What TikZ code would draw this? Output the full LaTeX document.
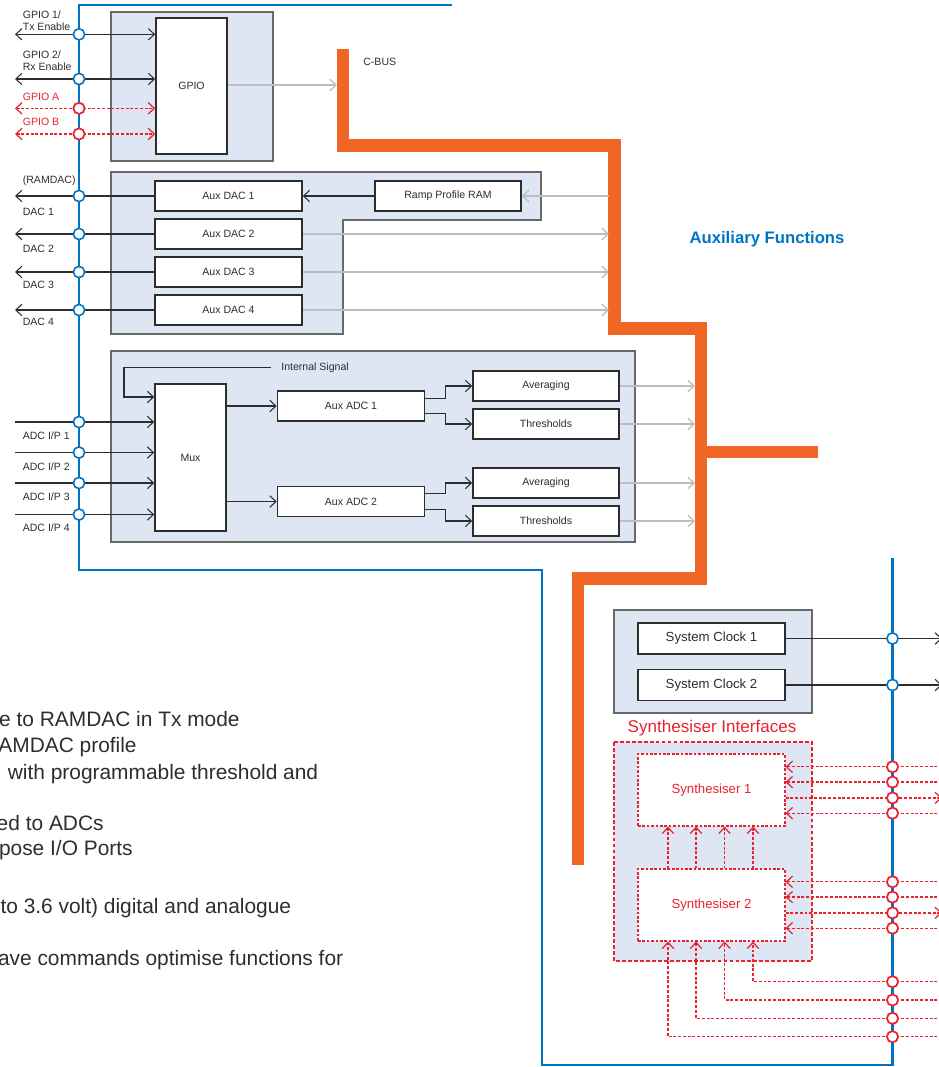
\documentclass[tikz,border=0pt]{standalone}
\usepackage{fontspec}
\setmainfont{Liberation Sans}
\usetikzlibrary{arrows.meta}

\definecolor{busblue}{RGB}{0,116,196}
\definecolor{cbusorange}{RGB}{242,102,37}
\definecolor{panelfill}{RGB}{223,230,243}
\definecolor{panelline}{RGB}{105,105,105}
\definecolor{sigred}{RGB}{234,34,48}
\definecolor{inkgray}{RGB}{45,45,45}
\definecolor{busgray}{RGB}{190,190,190}

\tikzset{
  >={Straight Barb[length=3.5pt,width=6.5pt]},
  panel/.style={draw=panelline,fill=panelfill,line width=.6pt},
  blk/.style={draw=inkgray,fill=white,line width=.9pt,inner sep=0pt,
    text=inkgray,font=\fontsize{6}{7}\selectfont},
  dacblk/.style={blk,minimum width=2.94cm,minimum height=.6cm},
  bigblk/.style={blk,font=\fontsize{7.5}{9}\selectfont,minimum width=2.94cm},
  synblk/.style={bigblk,draw=sigred,text=sigred,line width=.6pt,
    dash pattern=on 1.5pt off 1pt,minimum height=1.44cm},
  lbl/.style={inner sep=0pt,text=inkgray,align=left,anchor=west,
    font=\fontsize{6}{6.6}\selectfont},
  note/.style={inner sep=0pt,anchor=base east,text=inkgray,
    font=\fontsize{11.9}{14}\selectfont},
  sig/.style={draw=inkgray,line width=.6pt},
  link/.style={draw=busgray,line width=.75pt},
  rsig/.style={draw=sigred,line width=.7pt,dash pattern=on 1.7pt off 1pt},
  pin/.style={circle,draw=busblue,fill=white,line width=.9pt,inner sep=0pt,
    minimum size=6.4pt},
  rpin/.style={pin,draw=sigred,line width=1pt},
}

\begin{document}
\begin{tikzpicture}[x=.02cm,y=-.02cm]
\useasboundingbox (0,0) rectangle (938,1067);

\draw[cbusorange,line width=7.1pt] (343,49) -- (343,145.5) -- (614.5,145.5)
    -- (614.5,328.5) -- (701,328.5) -- (701,578.5) -- (578,578.5) -- (578,865);
\draw[cbusorange,line width=7.1pt] (701,452) -- (818,452);
\node[lbl] (cbus) at (363,62) {C-BUS};

\draw[busblue,line width=1.2pt] (452,5) -- (79,5) -- (79,570) -- (542,570)
    -- (542,1065) -- (892.5,1065) -- (892.5,558);

\coordinate (lbus) at (79,0);
\coordinate (rbus) at (892.5,0);
\coordinate (ledge) at (15,0);
\coordinate (redge) at (942,0);
\coordinate (cbA) at (609,0);
\coordinate (cbB) at (695,0);

\draw[panel] (111,12) rectangle (273,161);
\draw[panel] (111,172) -- (541,172) -- (541,220) -- (343,220) -- (343,334)
    -- (111,334) -- cycle;
\draw[panel] (111,351) rectangle (635,542);
\draw[panel] (614,610) rectangle (812,713);
\draw[panel,draw=sigred,line width=1pt,dash pattern=on 2.2pt off 1.2pt]
    (614,742) rectangle (812,961);

\node[blk,minimum width=1.42cm,minimum height=2.72cm] (gpio) at (191.5,86) {GPIO};
\coordinate (g1) at (79,34.3);
\coordinate (g2) at (79,79);
\coordinate (gA) at (79,108.3);
\coordinate (gB) at (79,134);
\draw[sig,<->] (g1 -| ledge) -- (gpio.west |- g1);
\draw[sig,<->] (g2 -| ledge) -- (gpio.west |- g2);
\draw[rsig,<->] (gA -| ledge) -- (gpio.west |- gA);
\draw[rsig,<->] (gB -| ledge) -- (gpio.west |- gB);
\coordinate (cb0) at (337,85);
\draw[link,->] (gpio.east |- cb0) -- (cb0);
\node[lbl] (lg1) at (22.5,20.5) {GPIO 1/\\Tx Enable};
\node[lbl] (lg2) at (22.5,60.5) {GPIO 2/\\Rx Enable};
\node[lbl,text=sigred] (lgA) at (22.5,97) {GPIO A};
\node[lbl,text=sigred] (lgB) at (22.5,122) {GPIO B};

\node[dacblk] (dac1) at (228.5,196) {Aux DAC 1};
\node[dacblk] (dac2) at (228.5,234) {Aux DAC 2};
\node[dacblk] (dac3) at (228.5,272) {Aux DAC 3};
\node[dacblk] (dac4) at (228.5,310) {Aux DAC 4};
\node[dacblk,minimum width=2.92cm] (ramp) at (448,196) {Ramp Profile RAM};
\foreach \i in {1,...,4}
  \draw[sig,->] (dac\i.west) -- (dac\i.west -| ledge);
\foreach \i in {2,3,4}
  \draw[link,->] (dac\i.east) -- (dac\i.east -| cbA);
\draw[sig,->] (ramp.west) -- (dac1.east);
\draw[link,->] (ramp.east -| cbA) -- (ramp.east);
\node[lbl] (lram) at (22.5,180.7) {(RAMDAC)};
\node[lbl] (ld1) at (22.5,211.7) {DAC 1};
\node[lbl] (ld2) at (22.5,249.3) {DAC 2};
\node[lbl] (ld3) at (22.5,285) {DAC 3};
\node[lbl] (ld4) at (22.5,321.7) {DAC 4};

\node[blk,minimum width=1.42cm,minimum height=2.94cm] (mux) at (190.5,457.5) {Mux};
\node[dacblk] (adc1) at (351,406) {Aux ADC 1};
\node[dacblk] (adc2) at (351,501.5) {Aux ADC 2};
\node[dacblk,minimum width=2.92cm] (avg1) at (546,386) {Averaging};
\node[dacblk,minimum width=2.92cm] (thr1) at (546,424) {Thresholds};
\node[dacblk,minimum width=2.92cm] (avg2) at (546,483) {Averaging};
\node[dacblk,minimum width=2.92cm] (thr2) at (546,521) {Thresholds};
\coordinate (a1) at (79,422);
\coordinate (a2) at (79,452.5);
\coordinate (a3) at (79,483);
\coordinate (a4) at (79,514.5);
\foreach \i in {1,...,4}
  \draw[sig,->] (a\i -| ledge) -- (mux.west |- a\i);
\node[lbl] (la1) at (22.5,436) {ADC I/P 1};
\node[lbl] (la2) at (22.5,466.5) {ADC I/P 2};
\node[lbl] (la3) at (22.5,497) {ADC I/P 3};
\node[lbl] (la4) at (22.5,528) {ADC I/P 4};
\node[lbl] (isig) at (281,367.5) {Internal Signal};
\coordinate (isigk) at (124,397);
\draw[sig,->] ([xshift=-5.7pt]isig.west) -| (isigk) -- (mux.west |- isigk);
\draw[sig,->] (mux.east |- adc1) -- (adc1.west);
\draw[sig,->] (mux.east |- adc2) -- (adc2.west);
\foreach \a/\v/\t in {adc1/avg1/thr1,adc2/avg2/thr2} {
  \draw[sig,->] ([yshift=4.3pt]\a.east) -- ++(20,0) |- (\v.west);
  \draw[sig,->] ([yshift=-4.3pt]\a.east) -- ++(20,0) |- (\t.west);
}
\foreach \b in {avg1,thr1,avg2,thr2}
  \draw[link,->] (\b.east) -- (\b.east -| cbB);

\node[bigblk,minimum height=.62cm] (clk1) at (711.5,638.5) {System Clock 1};
\node[bigblk,minimum height=.62cm] (clk2) at (711.5,685) {System Clock 2};
\draw[sig,->] (clk1.east) -- (clk1.east -| redge);
\draw[sig,->] (clk2.east) -- (clk2.east -| redge);

\node[text=sigred,font=\fontsize{9.7}{11}\selectfont] (synlbl) at (712,728)
    {Synthesiser Interfaces};
\node[synblk] (syn1) at (711.5,790) {Synthesiser 1};
\node[synblk] (syn2) at (711.5,905) {Synthesiser 2};
\foreach \s in {syn1,syn2}
  \foreach \o [count=\k] in {13.2pt,4.5pt,-4.5pt,-13.2pt}
    \coordinate (\s p\k) at ([yshift=\o]\s.east);
\foreach \s in {syn1,syn2} {
  \foreach \k in {1,2,4}
    \draw[rsig,->] (\s p\k -| redge) -- (\s p\k);
  \draw[rsig,->] (\s p3) -- (\s p3 -| redge);
}
\coordinate (c1) at (668,0);
\coordinate (c2) at (696,0);
\coordinate (c3) at (724.5,0);
\coordinate (c4) at (753,0);
\foreach \k in {1,...,4}
  \draw[rsig,->] (syn2.north -| c\k) -- (syn1.south -| c\k);
\coordinate (f4) at (892.5,981.7);
\coordinate (f3) at (892.5,1000);
\coordinate (f2) at (892.5,1018.3);
\coordinate (f1) at (892.5,1036.7);
\foreach \k in {1,...,4}
  \draw[rsig,->] (f\k -| redge) -| (syn2.south -| c\k);

\foreach \p in {g1,g2,dac1.west,dac2.west,dac3.west,dac4.west,a1,a2,a3,a4}
  \node[pin] at (\p -| lbus) {};
\foreach \p in {gA,gB}
  \node[rpin] at (\p -| lbus) {};
\foreach \p in {clk1,clk2}
  \node[pin] at (\p -| rbus) {};
\foreach \p in {syn1p1,syn1p2,syn1p3,syn1p4,syn2p1,syn2p2,syn2p3,syn2p4,f1,f2,f3,f4}
  \node[rpin] at (\p -| rbus) {};

\node[text=busblue,font=\bfseries\fontsize{9.5}{11}\selectfont] (auxf) at (767,239)
    {Auxiliary Functions};

\node[note] (n1) at (240,726) {e to RAMDAC in Tx mode};
\node[note] (n2) at (137,752.5) {AMDAC profile};
\node[note] (n3) at (318.5,779) {with programmable threshold and};
\node[note] (n4) at (104,830) {ed to ADCs};
\node[note] (n5) at (133,855.5) {pose I/O Ports};
\node[note] (n6) at (291.5,913.5) {to 3.6 volt) digital and analogue};
\node[note] (n7) at (343.5,965) {ave commands optimise functions for};
\end{tikzpicture}
\end{document}
